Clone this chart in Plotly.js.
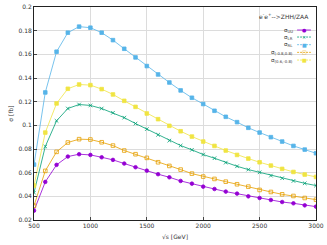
<!DOCTYPE html>
<html><head><meta charset="utf-8">
<script src="https://cdn.plot.ly/plotly-3.0.1.min.js"></script>
<style>body{margin:0;padding:0;background:#fff}#c{width:327px;height:245px}</style>
</head><body><div id="c"></div>
<script>
const sqrtS = [500,600,700,800,900,1000,1100,1200,1300,1400,1500,1600,1700,1800,1900,2000,2100,2200,2300,2400,2500,2600,2700,2800,2900,3000];
const sigmaUU = [0.0279,0.0522,0.0666,0.0736,0.0756,0.0750,0.0730,0.0708,0.0677,0.0646,0.0617,0.0587,0.0561,0.0530,0.0507,0.0482,0.0462,0.0440,0.0423,0.0400,0.0386,0.0369,0.0352,0.0341,0.0324,0.0313];
const sigmaLR = [0.0431,0.0821,0.1038,0.1142,0.1176,0.1168,0.1142,0.1106,0.1065,0.1015,0.0968,0.0920,0.0871,0.0829,0.0793,0.0753,0.0722,0.0685,0.0654,0.0626,0.0603,0.0575,0.0553,0.0530,0.0510,0.0491];
const sigmaRL = [0.0668,0.1278,0.1622,0.1783,0.1834,0.1825,0.1783,0.1720,0.1647,0.1574,0.1501,0.1430,0.1362,0.1295,0.1233,0.1180,0.1123,0.1072,0.1027,0.0979,0.0939,0.0900,0.0863,0.0826,0.0795,0.0764];
const sigmaM08P08 = [0.0321,0.0615,0.0776,0.0855,0.0883,0.0880,0.0857,0.0829,0.0787,0.0756,0.0725,0.0688,0.0657,0.0626,0.0592,0.0567,0.0547,0.0524,0.0502,0.0482,0.0454,0.0437,0.0417,0.0403,0.0386,0.0372];
const sigmaP06M08 = [0.0491,0.0939,0.1185,0.1309,0.1345,0.1340,0.1306,0.1261,0.1207,0.1156,0.1100,0.1052,0.0996,0.0950,0.0905,0.0863,0.0826,0.0787,0.0750,0.0719,0.0688,0.0660,0.0632,0.0606,0.0584,0.0564];
const names = ["σ<sub>UU</sub>","σ<sub>LR</sub>","σ<sub>RL</sub>","σ<sub>(-0.8,0.8)</sub>","σ<sub>(0.6,-0.8)</sub>"];
const xTicks = [500,1000,1500,2000,2500,3000];
const yTicks = [0.02,0.04,0.06,0.08,0.1,0.12,0.14,0.16,0.18,0.2];
const yTickText = ["0.02","0.04","0.06","0.08","0.1","0.12","0.14","0.16","0.18","0.2"];

const styles = [
  {color:'#9400d3', symbol:'circle', dash:'solid', glyph:'●'},
  {color:'#009e73', symbol:'x-thin-open', dash:'dash', glyph:'×'},
  {color:'#56b4e9', symbol:'square', dash:'dot', glyph:'■'},
  {color:'#e69f00', symbol:'square-open', dash:'dash', glyph:'□'},
  {color:'#f0e442', symbol:'square', dash:'dash', glyph:'■'}
];
const series = [sigmaUU, sigmaLR, sigmaRL, sigmaM08P08, sigmaP06M08];
const traces = series.map((ys,i)=>({
  x: sqrtS, y: ys, name: names[i], type:'scatter', mode:'lines+markers', showlegend:false,
  line:{color:styles[i].color, width:0.8},
  marker:{color:styles[i].color, symbol:styles[i].symbol, size:3.6, line:{color:styles[i].color, width:0.8}}
}));

const legendY = [0.892, 0.859, 0.823, 0.787, 0.751];
const annotations = [{xref:'paper', yref:'paper', x:0.982, y:0.958, xanchor:'right', yanchor:'middle', showarrow:false,
    text:'e<sup>-</sup>e<sup>+</sup>-->ZHH/ZAA', font:{size:6, color:'#333'}}];
const shapes = [];
names.forEach((n,i)=>{
  annotations.push({xref:'paper', yref:'paper', x:0.926, y:legendY[i], xanchor:'right', yanchor:'middle', showarrow:false,
    text:n, font:{size:5.5, color:'#333'}});
  annotations.push({xref:'paper', yref:'paper', x:0.958, y:legendY[i], xanchor:'center', yanchor:'middle', showarrow:false,
    text:styles[i].glyph, font:{family:'DejaVu Sans', size:5, color:styles[i].color}});
  shapes.push({type:'line', xref:'paper', yref:'paper', x0:0.933, x1:0.982, y0:legendY[i], y1:legendY[i],
    line:{color:styles[i].color, width:0.8, dash: styles[i].dash==='solid' ? 'solid' : '2px,1px'}});
});

const layout = {
  width:327, height:245,
  margin:{l:34, r:11, t:7, b:25},
  paper_bgcolor:'#fff', plot_bgcolor:'#fff',
  font:{family:'DejaVu Sans, sans-serif', size:6, color:'#333'},
  xaxis:{range:[500,3000], tickvals:xTicks, ticktext:xTicks.map(String), showgrid:true, gridcolor:'#dcdcdc', gridwidth:1,
    zeroline:false, showline:true, linecolor:'#222', linewidth:1, mirror:true, ticks:'inside', ticklen:3, tickcolor:'#444',
    tickfont:{size:6, color:'#333'}, title:{text:'√s [GeV]', font:{size:6, color:'#333'}, standoff:6}},
  yaxis:{range:[0.02,0.2], tickvals:yTicks, ticktext:yTickText, showgrid:true, gridcolor:'#dcdcdc', gridwidth:1,
    zeroline:false, showline:true, linecolor:'#222', linewidth:1, mirror:true, ticks:'inside', ticklen:3, tickcolor:'#444',
    tickfont:{size:6, color:'#333'}, title:{text:'σ [fb]', font:{size:6, color:'#333'}, standoff:4}},
  showlegend:false,
  annotations: annotations,
  shapes: shapes
};
Plotly.newPlot('c', traces, layout, {displayModeBar:false, staticPlot:true});
</script></body></html>
